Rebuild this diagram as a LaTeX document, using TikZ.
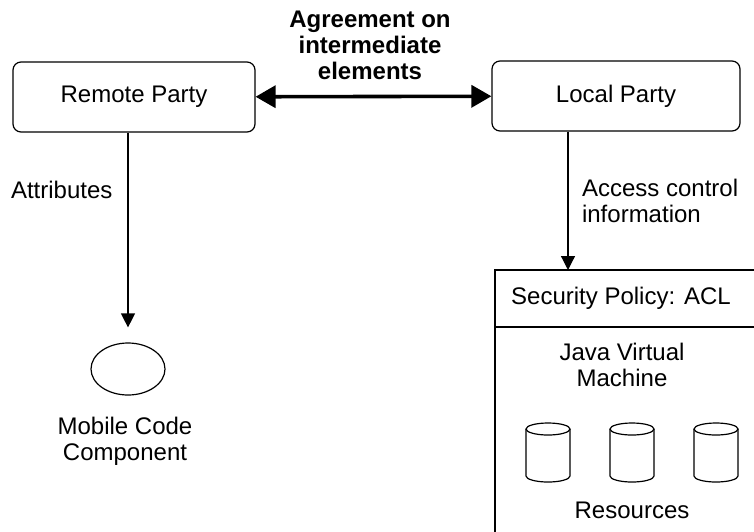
\documentclass[tikz,border=0pt]{standalone}
\usepackage{fontspec}
\setmainfont{Liberation Sans}
\usetikzlibrary{arrows.meta,shapes.geometric}
\tikzset{
	party/.style={draw, rounded corners=4pt, minimum height=35pt, line width=0.6pt},
	txt/.style={align=center, font=\fontsize{12}{13}\selectfont},
	flow/.style={-{Triangle[length=7pt,width=7pt]}, line width=0.6pt},
	agree/.style={{Triangle[length=10pt,width=11pt]}-{Triangle[length=10pt,width=11pt]}, line width=1.8pt},
	lid/.style={x radius=11pt, y radius=3pt}
}
\begin{document}
\begin{tikzpicture}[x=0.5pt,y=-0.5pt]
	\clip (0,0) rectangle (754,531);
	\node[party, txt, minimum width=121pt] (remote) at (134,97) {Remote Party};
	\node[party, txt, minimum width=124pt] (local) at (616,96) {Local Party};
	\node[txt, font=\fontsize{12}{13}\selectfont\bfseries] (agreement) at (370,45) {Agreement on\\intermediate\\elements};
	\draw[agree] (remote) -- (local);
	% remote side
	\node[draw, ellipse, minimum width=37pt, minimum height=26pt, line width=0.6pt] (mobile) at (128,369) {};
	\node[txt, anchor=west] (attr) at (4,190) {Attributes};
	\node[txt] (mobilelbl) at (125,441) {Mobile Code\\Component};
	\draw[flow, shorten >=7.5pt] (remote.south -| mobile.north) -- (mobile.north);
	% local side
	\coordinate (acltop) at (568,270);
	\node[txt, anchor=west, align=left] (aclinfo) at (575,201) {Access control\\information};
	\draw[flow] (local.south -| acltop) -- (acltop);
	\draw[line width=0.6pt] (495,270) rectangle (800,560);
	\draw[line width=0.6pt] (495,327) -- (800,327);
	\node[txt] (policy) at (621,298) {Security Policy: ACL};
	\node[txt] (jvm) at (622,365) {Java Virtual\\Machine};
	% resources
	\foreach \x/\n in {548/a,632/b,716/c}{
		\coordinate (res\n) at (\x,452);
		\draw[line width=0.6pt] (\x,429) ellipse [lid];
		\draw[line width=0.6pt] (\x-22,429) -- (\x-22,476) arc[start angle=180, end angle=360, lid] -- (\x+22,429);
	}
	\node[txt] (reslbl) at (632,510) {Resources};
\end{tikzpicture}
\end{document}
